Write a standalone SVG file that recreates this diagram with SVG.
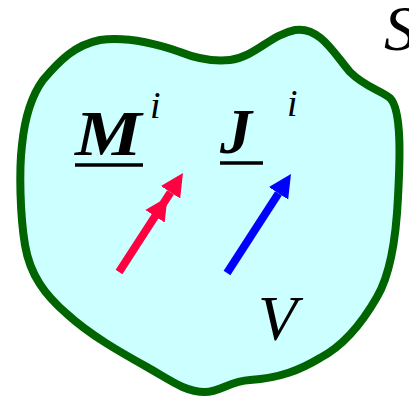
<svg xmlns="http://www.w3.org/2000/svg" width="409" height="397" viewBox="0 0 409 397">
<defs>
<style>
.sym{font-family:"Liberation Serif","Times New Roman",serif;font-style:italic;fill:#000}
.b{font-weight:bold}
.ul{stroke:#000;stroke-width:3.5}
.vec{fill:none;stroke-width:8;stroke-linecap:butt}
</style>
<marker id="hr" viewBox="0 -12 24 24" markerWidth="24" markerHeight="24" refX="0" refY="0" markerUnits="userSpaceOnUse" orient="auto">
<path d="M0,-11.5 L23,0 L0,11.5 Z" fill="#ff0040"/>
</marker>
<marker id="hb" viewBox="0 -12 24 24" markerWidth="24" markerHeight="24" refX="0" refY="0" markerUnits="userSpaceOnUse" orient="auto">
<path d="M0,-11.5 L23,0 L0,11.5 Z" fill="#0000ff"/>
</marker>
</defs>
<rect width="409" height="397" fill="#fff"/>
<g id="volume">
<path d="M43,80 C60,60 75,45 100,40 C130,36 160,45 180,52 C195,58 210,62 230,60 C255,57 270,35 295,30 C320,26 335,55 350,72 C365,87 380,90 390,98 C402,110 400,160 398,197 C396,240 390,275 377,297 C365,318 345,345 320,358 C300,370 280,378 250,380 C230,381 220,392 205,392 C185,392 170,380 147,367 C120,352 90,335 67,314 C45,295 30,275 25,245 C20,215 19,170 22,145 C25,115 32,95 43,80 Z" fill="#ccffff" stroke="#006400" stroke-width="8" stroke-linejoin="round"/>
</g>
<g id="label-S"><text class="sym" x="384" y="50" font-size="64">S</text></g>
<g id="label-V"><text class="sym" x="258" y="340" font-size="64">V</text></g>
<g id="source-M">
<text class="sym b" transform="translate(75,155) scale(1.17,1)" x="0" y="0" font-size="64">M</text>
<text class="sym" x="150" y="118" font-size="38">i</text>
<line class="ul" x1="75" y1="165" x2="143" y2="165"/>
</g>
<g id="source-J">
<text class="sym b" x="220" y="153" font-size="64">J</text>
<text class="sym" x="287" y="116" font-size="38">i</text>
<line class="ul" x1="220" y1="163" x2="263" y2="163"/>
</g>
<g id="vectors">
<polyline class="vec" stroke="#ff0040" points="119,272 155,216.3 170.5,192.3" marker-mid="url(#hr)" marker-end="url(#hr)"/>
<polyline class="vec" stroke="#0000ff" points="227,273 278.5,193.3" marker-end="url(#hb)"/>
</g>
</svg>
